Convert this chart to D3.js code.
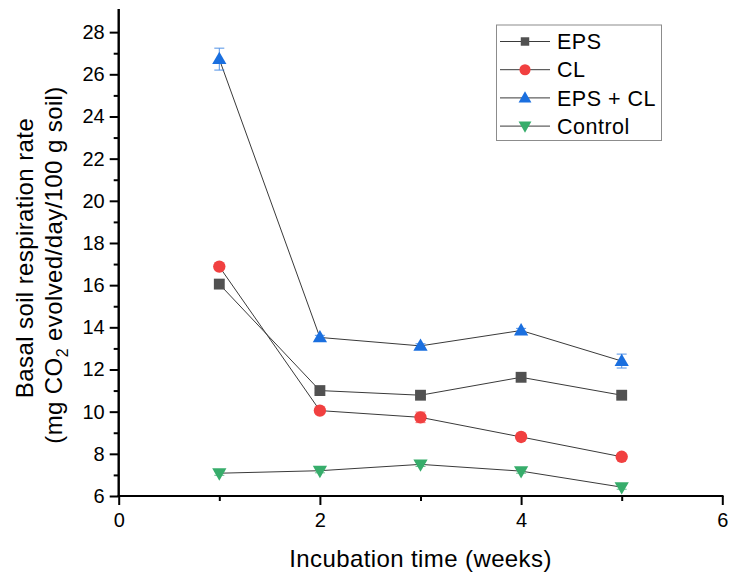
<!DOCTYPE html>
<html>
<head>
<meta charset="utf-8">
<script src="https://cdn.jsdelivr.net/npm/d3@7"></script>
<style>
  html, body { margin: 0; padding: 0; background: #fff; }
  svg { display: block; font-family: "Liberation Sans", Arial, sans-serif; }
</style>
</head>
<body>
<svg id="chart" width="729" height="574"></svg>
<script>
// Incubation weeks
const weeks = [1, 2, 3, 4, 5];

// Basal soil respiration rate, mg CO2 / day / 100 g soil
const eps     = [16.05, 11.0, 10.78, 11.63, 10.78];
const cl      = [16.88, 10.05, 9.73, 8.8, 7.86];
const epsCl   = [26.72, 13.52, 13.12, 13.85, 12.4];
const control = [7.08, 7.2, 7.5, 7.18, 6.42];

// Standard errors
const epsErr     = [0.2, 0.1, 0.1, 0.1, 0.1];
const clErr      = [0.1, 0.1, 0.25, 0.1, 0.1];
const epsClErr   = [0.52, 0.1, 0.1, 0.1, 0.33];
const controlErr = [0.1, 0.1, 0.1, 0.1, 0.1];

const seriesNames = ["EPS", "CL", "EPS + CL", "Control"];
const xTicks = [0, 2, 4, 6];
const yTicks = [6, 8, 10, 12, 14, 16, 18, 20, 22, 24, 26, 28];

const series = [
  { name: seriesNames[0], values: eps,     err: epsErr,     color: "#515151", shape: "square" },
  { name: seriesNames[1], values: cl,      err: clErr,      color: "#F14040", shape: "circle" },
  { name: seriesNames[2], values: epsCl,   err: epsClErr,   color: "#1A6FDF", shape: "up" },
  { name: seriesNames[3], values: control, err: controlErr, color: "#37AD6B", shape: "down" }
];

const svg = d3.select("#chart");

const x = d3.scaleLinear().domain([0, 6]).range([118.7, 722.3]);
const y = d3.scaleLinear().domain([6, 29.05]).range([496, 10]);

// marker path generator
function markerPath(shape, scale) {
  const s = scale || 1;
  if (shape === "square") return d3.symbol(d3.symbolSquare, 118 * s * s)();
  if (shape === "circle") return d3.symbol(d3.symbolCircle, 120 * s * s)();
  return d3.symbol(d3.symbolTriangle, 88 * s * s)();
}
function markerTransform(shape, px, py) {
  if (shape === "up") return `translate(${px},${py + 0.8})`;
  if (shape === "down") return `translate(${px},${py - 0.8}) rotate(180)`;
  return `translate(${px},${py})`;
}

// Axes
const yAxis = d3.axisLeft(y).tickValues(yTicks).tickSize(9).tickPadding(5).tickFormat(d3.format("d"));
const yMinor = d3.axisLeft(y).tickValues(d3.range(7, 28, 2)).tickSize(5).tickFormat("");
const xAxis = d3.axisBottom(x).tickValues(xTicks).tickSize(9).tickPadding(8).tickFormat(d3.format("d"));
const xMinor = d3.axisBottom(x).tickValues([1, 3, 5]).tickSize(5).tickFormat("");

function styleAxis(g) {
  g.select(".domain").attr("stroke", "#000").attr("stroke-width", 2);
  g.selectAll(".tick line").attr("stroke", "#000").attr("stroke-width", 2);
  g.selectAll(".tick text").attr("fill", "#000").style("font-size", "20px")
    .style("font-family", "'Liberation Sans', Arial, sans-serif");
}

const gxMinor = svg.append("g").attr("transform", `translate(0,496)`).call(xMinor).call(styleAxis);
const gx = svg.append("g").attr("transform", `translate(0,496)`).call(xAxis).call(styleAxis);
const gyMinor = svg.append("g").attr("transform", `translate(118.7,0)`).call(yMinor).call(styleAxis);
const gy = svg.append("g").attr("transform", `translate(118.7,0)`).call(yAxis).call(styleAxis);

// Plain spines without outer end ticks
[gx, gxMinor].forEach(g => g.select(".domain").attr("d", `M${x.range()[0]},0H${x.range()[1]}`));
[gy, gyMinor].forEach(g => g.select(".domain").attr("d", `M0,${y.range()[0]}V${y.range()[1]}`));
svg.selectAll(".domain").attr("stroke-linecap", "square");

// Connecting lines
const line = d3.line().x((d, i) => x(weeks[i])).y(d => y(d));
const plot = svg.append("g");
series.forEach(s => {
  plot.append("path")
    .attr("d", line(s.values))
    .attr("fill", "none")
    .attr("stroke", "#3a3a3a")
    .attr("stroke-width", 1);
});

// Error bars
series.forEach(s => {
  const g = plot.append("g").attr("stroke", s.color).attr("stroke-width", 1).attr("opacity", 0.75);
  s.values.forEach((v, i) => {
    const px = x(weeks[i]);
    g.append("line").attr("x1", px).attr("x2", px).attr("y1", y(v - s.err[i])).attr("y2", y(v + s.err[i]));
    [v - s.err[i], v + s.err[i]].forEach(e => {
      g.append("line").attr("x1", px - 5).attr("x2", px + 5).attr("y1", y(e)).attr("y2", y(e));
    });
  });
});

// Markers
series.forEach(s => {
  plot.append("g").selectAll("path")
    .data(s.values)
    .join("path")
    .attr("d", markerPath(s.shape))
    .attr("transform", (d, i) => markerTransform(s.shape, x(weeks[i]), y(d)))
    .attr("fill", s.color);
});

// Legend
const legend = svg.append("g");
legend.append("rect")
  .attr("x", 496.5).attr("y", 25).attr("width", 165).attr("height", 115.5)
  .attr("fill", "#fff").attr("stroke", "#8c8c8c").attr("stroke-width", 1);
series.forEach((s, i) => {
  const cy = 41.5 + i * 28.2;
  const row = legend.append("g");
  row.append("line").attr("x1", 500).attr("x2", 550).attr("y1", cy).attr("y2", cy)
    .attr("stroke", "#3a3a3a").attr("stroke-width", 1);
  row.append("path").attr("d", markerPath(s.shape, s.shape === "square" ? 0.78 : 0.9))
    .attr("transform", markerTransform(s.shape, 525, cy)).attr("fill", s.color);
  row.append("text").attr("x", 557).attr("y", cy + 7.6)
    .style("font-size", "21.5px").style("letter-spacing", "0.5px")
    .attr("fill", "#000").text(s.name);
});

// Axis titles
svg.append("text")
  .attr("x", 420.5).attr("y", 566.5)
  .attr("text-anchor", "middle")
  .style("font-size", "24px").style("letter-spacing", "0.4px").attr("fill", "#000")
  .text("Incubation time (weeks)");

svg.append("text")
  .attr("transform", "translate(32.7,258) rotate(-90)")
  .attr("text-anchor", "middle")
  .style("font-size", "24px").style("letter-spacing", "0.4px").attr("fill", "#000")
  .text("Basal soil respiration rate");

const yl2 = svg.append("text")
  .attr("transform", "translate(62,265) rotate(-90)")
  .attr("text-anchor", "middle")
  .style("font-size", "24px").style("letter-spacing", "0.4px").attr("fill", "#000");
yl2.append("tspan").text("(mg CO");
yl2.append("tspan").attr("dy", 6).style("font-size", "16px").text("2");
yl2.append("tspan").attr("dy", -6).text(" evolved/day/100 g soil)");
</script>
</body>
</html>
